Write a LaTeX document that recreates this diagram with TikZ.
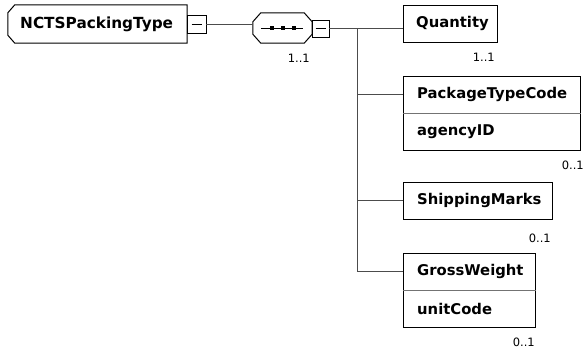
\documentclass[tikz,border=0pt]{standalone}
\usepackage{fontspec}
\setmainfont{DejaVu Sans}
\usetikzlibrary{calc}
\begin{document}
\begin{tikzpicture}[x=1pt,y=-1pt,
  conn/.style={draw=black!70, line width=0.8pt},
  outl/.style={draw=black, line width=1pt},
  lbl/.style={font=\bfseries\fontsize{14.8}{16}\selectfont, anchor=west, inner sep=0pt},
  card/.style={font=\fontsize{11.5}{13}\selectfont, anchor=east, inner sep=0pt},
  elbox/.style={draw=black, line width=1pt, rectangle, inner sep=0pt, anchor=north west},
  shapebox/.style={draw=none, rectangle, inner sep=0pt},
  minusbox/.style={draw=black, line width=0.8pt, rectangle, inner sep=0pt},
  dot/.style={fill=black, rectangle, inner sep=0pt, minimum size=4pt},
  divider/.style={draw=black!55, line width=0.8pt}
]
\useasboundingbox (0,0) rectangle (585,350);

% root element
\node[shapebox, minimum width=179pt, minimum height=38pt] (root) at (97.5,24) {};
\draw[outl] ([xshift=7pt]root.north west) -- (root.north east) -- (root.south east)
  -- ([xshift=7pt]root.south west) -- ([yshift=8pt]root.south west)
  -- ([yshift=-8pt]root.north west) -- cycle;
\node[lbl, font=\bfseries\fontsize{15.3}{16}\selectfont] (roottxt) at (20,24) {NCTSPackingType};
\node[minusbox, minimum width=19pt, minimum height=18pt] (rm) at (196.5,24) {};
\draw[black, line width=0.8pt] ($(rm.center)+(-5,0)$) -- ($(rm.center)+(5,0)$);

% sequence compositor
\node[shapebox, minimum width=59pt, minimum height=30pt] (seq) at (282.5,28) {};
\draw[outl] ([xshift=8pt]seq.north west) -- ([xshift=-8pt]seq.north east)
  -- ([yshift=-9pt]seq.north east) -- ([yshift=9pt]seq.south east)
  -- ([xshift=-8pt]seq.south east) -- ([xshift=8pt]seq.south west)
  -- ([yshift=9pt]seq.south west) -- ([yshift=-9pt]seq.north west) -- cycle;
\draw[black, line width=0.8pt] ([xshift=8pt]seq.west) -- ([xshift=-9pt]seq.east);
\node[dot] (d1) at ($(seq.center)+(-11,0)$) {};
\node[dot] (d2) at (seq.center) {};
\node[dot] (d3) at ($(seq.center)+(11,0)$) {};
\node[minusbox, minimum width=17pt, minimum height=17pt] (sm) at (320.5,28.5) {};
\draw[black, line width=0.8pt] ($(sm.center)+(-5,0)$) -- ($(sm.center)+(5,0)$);
\node[card] (seqcard) at (310,58) {1..1};

% children
\node[elbox, minimum width=94pt, minimum height=37pt] (q) at (403,5) {};
\node[lbl] (qtxt) at (416,23.5) {Quantity};
\node[card] (qcard) at (495,57) {1..1};

\node[elbox, minimum width=177pt, minimum height=74pt] (ptc) at (403,76) {};
\draw[divider] (ptc.west) -- (ptc.east);
\node[lbl] (ptctxt) at (417,94.5) {PackageTypeCode};
\node[lbl] (ptcattr) at (417,131.5) {agencyID};
\node[card] (ptccard) at (584,165) {0..1};

\node[elbox, minimum width=149pt, minimum height=37pt] (smk) at (403,182) {};
\node[lbl] (smktxt) at (417,200.5) {ShippingMarks};
\node[card] (smkcard) at (551,238) {0..1};

\node[elbox, minimum width=132pt, minimum height=74pt] (gw) at (403,253) {};
\draw[divider] (gw.west) -- (gw.east);
\node[lbl] (gwtxt) at (417,271.5) {GrossWeight};
\node[lbl] (gwattr) at (417,308.5) {unitCode};
\node[card] (gwcard) at (535,342) {0..1};

% connectors
\coordinate (j0) at (357,28.5);
\coordinate (j1) at (357,94.5);
\coordinate (j2) at (357,200.5);
\coordinate (j3) at (357,271.5);
\draw[conn] (rm.east) -- (rm.east -| seq.west);
\draw[conn] (sm.east) -- (sm.east -| q.west);
\draw[conn] (j0) -- (j3);
\draw[conn] (j1) -- (j1 -| ptc.west);
\draw[conn] (j2) -- (j2 -| smk.west);
\draw[conn] (j3) -- (j3 -| gw.west);
\end{tikzpicture}
\end{document}
